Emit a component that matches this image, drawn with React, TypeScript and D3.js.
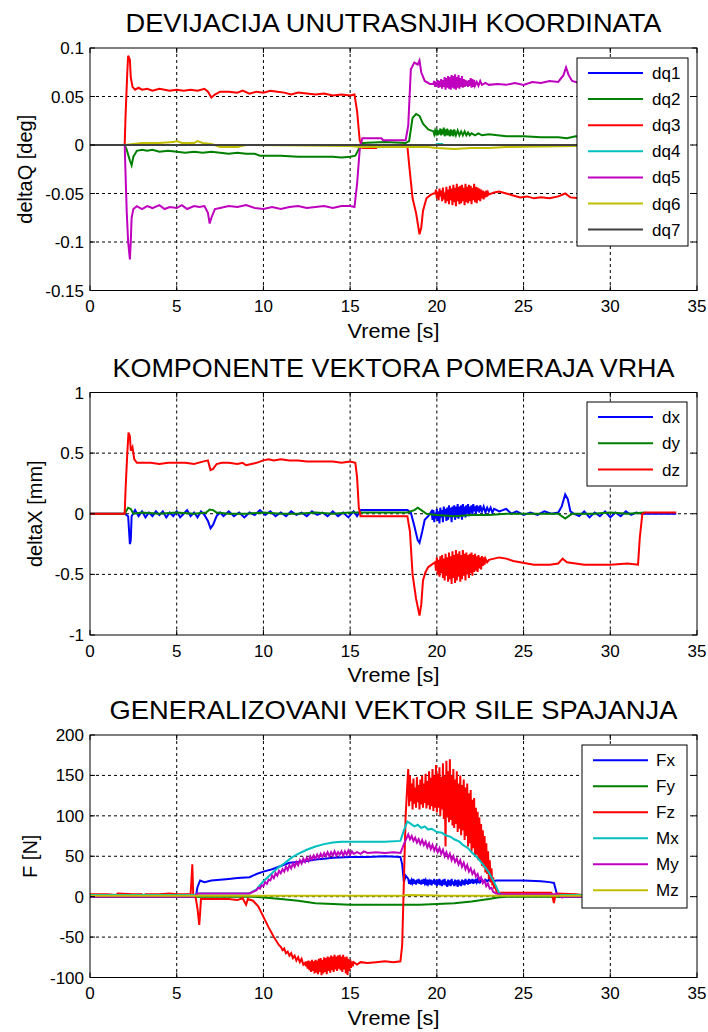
import React, { useEffect, useRef } from "react";
import * as d3 from "d3";

type Pt = [number, number];

// time axis shared by all three panels
const xTicks = [0, 5, 10, 15, 20, 25, 30, 35];

// ---------- panel 1: deltaQ [deg] ----------
const dq1: Pt[] = [[0, 0], [34, 0]];
const dq2: Pt[] = [
  [0, 0], [2.0, 0], [2.1, -0.004], [2.3, -0.016], [2.4, -0.021], [2.5, -0.012], [2.7, -0.006], [3.0, -0.005],
  [3.3, -0.006], [3.6, -0.005], [4.0, -0.007], [4.5, -0.006], [5.0, -0.007], [5.5, -0.008], [6.0, -0.007],
  [6.5, -0.008], [7.0, -0.007], [7.5, -0.008], [8.0, -0.009], [8.5, -0.008], [9.0, -0.009], [9.5, -0.009],
  [9.8, -0.011], [10.5, -0.011], [11, -0.011], [12, -0.012], [13, -0.012], [14, -0.012], [14.5, -0.013],
  [15.0, -0.012], [15.3, -0.011], [15.5, -0.004], [15.7, 0.002], [17, 0.003], [18.2, 0.002], [18.4, 0.004],
  [18.6, 0.028], [18.8, 0.032], [19.0, 0.030], [19.2, 0.022], [19.5, 0.016], [19.8, 0.014], [19.85, 0.011],
  [19.9, 0.015], [19.95, 0.012], [20.0, 0.016], [20.05, 0.010], [20.1, 0.015], [20.15, 0.011], [20.2, 0.017],
  [20.25, 0.010], [20.3, 0.016], [20.35, 0.011], [20.4, 0.018], [20.45, 0.009], [20.5, 0.016], [20.55, 0.010],
  [20.6, 0.017], [20.65, 0.010], [20.7, 0.015], [20.75, 0.009], [20.8, 0.016], [20.85, 0.010], [20.9, 0.015],
  [20.95, 0.009], [21.0, 0.016], [21.1, 0.010], [21.2, 0.015], [21.3, 0.010], [21.4, 0.014], [21.5, 0.010],
  [21.6, 0.014], [21.7, 0.010], [21.8, 0.013], [21.9, 0.010], [22.0, 0.012], [22.2, 0.010], [22.4, 0.012],
  [22.6, 0.010], [23, 0.011], [23.5, 0.010], [24, 0.009], [25, 0.009], [26, 0.008], [27, 0.008],
  [27.5, 0.007], [28, 0.009], [29, 0.008], [34, 0.008],
];
const dq3: Pt[] = [
  [0, 0], [2.0, 0], [2.05, 0.03], [2.15, 0.075], [2.2, 0.092], [2.3, 0.088], [2.35, 0.07], [2.45, 0.06],
  [2.6, 0.057], [2.8, 0.059], [3.0, 0.057], [3.3, 0.058], [3.6, 0.056], [4.0, 0.058], [4.3, 0.057],
  [4.6, 0.056], [5.0, 0.057], [5.4, 0.056], [5.8, 0.057], [6.2, 0.056], [6.6, 0.058], [6.8, 0.055],
  [7.0, 0.049], [7.2, 0.052], [7.5, 0.055], [8.0, 0.055], [8.5, 0.054], [8.8, 0.056], [9.2, 0.053],
  [9.6, 0.055], [10, 0.054], [10.4, 0.056], [10.8, 0.055], [11.2, 0.054], [11.6, 0.052], [12, 0.054],
  [12.5, 0.053], [13, 0.052], [13.5, 0.053], [14, 0.051], [14.5, 0.052], [15.0, 0.051], [15.25, 0.052],
  [15.4, 0.035], [15.55, 0.005], [15.7, -0.003], [16.5, -0.003], [16.6, -0.001], [18.3, -0.001],
  [18.4, -0.02], [18.6, -0.055], [18.8, -0.07], [19.0, -0.092], [19.1, -0.085], [19.2, -0.068],
  [19.4, -0.055], [19.6, -0.052], [19.8, -0.05],
  [19.9, -0.05], [19.95, -0.046], [20.0, -0.055], [20.05, -0.048], [20.1, -0.057], [20.15, -0.045],
  [20.2, -0.053], [20.25, -0.047], [20.3, -0.058], [20.35, -0.044], [20.4, -0.056], [20.45, -0.049],
  [20.5, -0.06], [20.55, -0.043], [20.6, -0.058], [20.65, -0.046], [20.7, -0.061], [20.75, -0.042],
  [20.8, -0.057], [20.85, -0.045], [20.9, -0.062], [20.95, -0.041], [21.0, -0.059], [21.05, -0.044],
  [21.1, -0.063], [21.15, -0.04], [21.2, -0.058], [21.25, -0.043], [21.3, -0.061], [21.35, -0.042],
  [21.4, -0.06], [21.45, -0.041], [21.5, -0.058], [21.55, -0.044], [21.6, -0.062], [21.65, -0.04],
  [21.7, -0.059], [21.75, -0.043], [21.8, -0.06], [21.85, -0.041], [21.9, -0.058], [21.95, -0.042],
  [22.0, -0.061], [22.05, -0.044], [22.1, -0.057], [22.15, -0.04], [22.2, -0.059], [22.25, -0.043],
  [22.3, -0.06], [22.35, -0.044], [22.4, -0.057], [22.45, -0.045], [22.5, -0.058], [22.55, -0.046],
  [22.6, -0.055], [22.65, -0.047], [22.7, -0.056], [22.75, -0.048], [22.8, -0.054], [22.85, -0.047],
  [22.9, -0.053], [22.95, -0.049], [23.0, -0.051], [23.3, -0.049], [23.6, -0.048],
  [24, -0.05], [24.4, -0.052], [24.8, -0.054], [25.2, -0.053], [25.6, -0.055], [26, -0.054],
  [26.5, -0.055], [27, -0.053], [27.4, -0.05], [27.7, -0.054], [28.2, -0.055], [34, -0.055],
];
const dq4: Pt[] = [[0, 0], [19.9, 0], [20.0, 0.001], [20.3, 0.001], [20.4, 0], [34, 0]];
const dq5: Pt[] = [
  [0, 0], [2.0, 0], [2.05, -0.03], [2.12, -0.07], [2.2, -0.1], [2.3, -0.118], [2.35, -0.1], [2.4, -0.075],
  [2.5, -0.066], [2.7, -0.063], [3.0, -0.066], [3.3, -0.063], [3.6, -0.065], [4.0, -0.062], [4.3, -0.066],
  [4.6, -0.064], [5.0, -0.065], [5.3, -0.062], [5.6, -0.066], [6.0, -0.063], [6.3, -0.064], [6.6, -0.063],
  [6.8, -0.07], [6.9, -0.081], [7.0, -0.075], [7.2, -0.066], [7.5, -0.065], [8, -0.063], [8.5, -0.064],
  [9, -0.062], [9.5, -0.065], [10, -0.066], [10.5, -0.064], [11, -0.066], [11.5, -0.064], [12, -0.063],
  [12.5, -0.065], [13, -0.064], [13.5, -0.063], [14, -0.065], [14.5, -0.063], [15.0, -0.063],
  [15.25, -0.064], [15.4, -0.04], [15.55, -0.005], [15.7, 0.007], [16.8, 0.007], [16.9, 0.005],
  [18.2, 0.005], [18.35, 0.02], [18.5, 0.078], [18.7, 0.085], [18.9, 0.083], [19.0, 0.087], [19.1, 0.075],
  [19.3, 0.066], [19.6, 0.063],
  [19.8, 0.063], [19.85, 0.066], [19.9, 0.06], [19.95, 0.065], [20.0, 0.061], [20.05, 0.067], [20.1, 0.059],
  [20.15, 0.066], [20.2, 0.06], [20.25, 0.068], [20.3, 0.058], [20.35, 0.067], [20.4, 0.06], [20.45, 0.07],
  [20.5, 0.057], [20.55, 0.069], [20.6, 0.059], [20.65, 0.071], [20.7, 0.058], [20.75, 0.07], [20.8, 0.057],
  [20.85, 0.072], [20.9, 0.059], [20.95, 0.071], [21.0, 0.058], [21.05, 0.073], [21.1, 0.057], [21.15, 0.07],
  [21.2, 0.059], [21.25, 0.072], [21.3, 0.058], [21.35, 0.069], [21.4, 0.06], [21.45, 0.071], [21.5, 0.059],
  [21.55, 0.068], [21.6, 0.06], [21.65, 0.067], [21.7, 0.061], [21.75, 0.066], [21.8, 0.06], [21.85, 0.067],
  [21.9, 0.061], [21.95, 0.069], [22.0, 0.059], [22.05, 0.068], [22.1, 0.06], [22.15, 0.067], [22.2, 0.061],
  [22.3, 0.065], [22.4, 0.061], [22.5, 0.066], [22.6, 0.062], [22.8, 0.064],
  [23, 0.062], [23.5, 0.063], [24, 0.062], [24.5, 0.064], [25, 0.062], [25.5, 0.065], [26, 0.064],
  [26.5, 0.066], [27, 0.065], [27.3, 0.072], [27.45, 0.08], [27.6, 0.072], [27.8, 0.066], [28.2, 0.064],
  [34, 0.064],
];
const dq6: Pt[] = [
  [0, 0], [2.0, 0], [2.5, 0.001], [3, 0.002], [4, 0.002], [4.8, 0.003], [5.0, 0.004], [5.3, 0.002],
  [6.0, 0.002], [6.2, 0.004], [6.5, 0.002], [7.0, 0.001], [7.5, -0.002], [8.5, -0.002], [9, 0],
  [15, -0.001], [15.6, -0.002], [19.5, -0.002], [20, -0.003], [21, -0.004], [22, -0.003], [23, -0.003],
  [24, -0.002], [28, -0.001], [34, -0.001],
];
const dq7: Pt[] = [[0, 0], [34, 0]];
const yTicksQ = [-0.15, -0.1, -0.05, 0, 0.05, 0.1];

// ---------- panel 2: deltaX [mm] ----------
const dx: Pt[] = [
  [0, 0], [2.0, 0], [2.2, -0.02], [2.3, -0.25], [2.35, -0.22], [2.4, -0.02], [2.6, 0.03], [2.8, -0.02],
  [3.0, 0.02], [3.2, -0.03], [3.4, 0.01], [3.6, -0.02], [3.8, 0.02], [4.0, -0.01], [4.2, 0.02], [4.4, -0.03],
  [4.6, 0.01], [4.8, -0.02], [5.0, 0.02], [5.2, -0.03], [5.4, 0.0], [5.6, 0.03], [5.8, -0.02], [6.0, 0.01],
  [6.2, -0.03], [6.4, 0.02], [6.6, -0.01], [6.8, -0.06], [6.95, -0.12], [7.1, -0.09], [7.3, -0.02],
  [7.5, 0.01], [7.7, -0.02], [8.0, 0.02], [8.3, -0.02], [8.6, 0.01], [8.9, -0.03], [9.2, 0.01], [9.5, -0.01],
  [9.8, 0.03], [10.1, -0.01], [10.4, 0.02], [10.7, -0.02], [11.0, 0.01], [11.3, -0.02], [11.6, 0.02],
  [11.9, -0.01], [12.2, 0.01], [12.5, -0.02], [12.8, 0.02], [13.1, -0.01], [13.4, 0.01], [13.7, -0.02],
  [14.0, 0.02], [14.3, -0.02], [14.6, 0.01], [14.9, -0.03], [15.2, 0.02], [15.4, -0.02], [15.6, 0.03],
  [18.3, 0.03], [18.5, 0.01], [18.7, -0.1], [18.9, -0.22], [19.0, -0.24], [19.15, -0.15], [19.3, -0.05],
  [19.5, -0.02], [19.7, 0.02], [19.75, -0.05], [19.8, 0.03], [19.85, -0.07], [19.9, 0.01], [19.95, -0.04],
  [20.0, 0.04], [20.05, -0.06], [20.1, 0.02], [20.15, -0.08], [20.2, 0.05], [20.25, -0.03], [20.3, 0.03],
  [20.35, -0.07], [20.4, 0.06], [20.45, -0.02], [20.5, 0.04], [20.55, -0.06], [20.6, 0.05], [20.65, -0.05],
  [20.7, 0.07], [20.75, -0.03], [20.8, 0.05], [20.85, -0.07], [20.9, 0.06], [20.95, -0.02], [21.0, 0.07],
  [21.05, -0.05], [21.1, 0.06], [21.15, -0.03], [21.2, 0.08], [21.25, -0.04], [21.3, 0.06], [21.35, -0.02],
  [21.4, 0.07], [21.45, -0.05], [21.5, 0.08], [21.55, -0.01], [21.6, 0.06], [21.65, -0.03], [21.7, 0.07],
  [21.75, 0.0], [21.8, 0.08], [21.85, -0.02], [21.9, 0.06], [21.95, 0.01], [22.0, 0.07], [22.05, -0.01],
  [22.1, 0.08], [22.15, 0.02], [22.2, 0.06], [22.25, 0.0], [22.3, 0.07], [22.35, 0.02], [22.4, 0.06],
  [22.45, 0.01], [22.5, 0.07], [22.6, 0.02], [22.7, 0.06], [22.8, 0.01], [22.9, 0.05], [23.0, 0.02],
  [23.1, 0.05], [23.2, 0.01], [23.3, 0.04], [23.6, 0.02],
  [24, 0.04], [24.3, 0.0], [24.6, 0.02], [25, -0.01], [25.4, 0.01], [25.8, -0.01], [26.2, 0.02],
  [26.6, 0.0], [27.0, 0.01], [27.2, 0.06], [27.4, 0.16], [27.55, 0.12], [27.7, 0.02], [27.9, 0.0],
  [28.2, -0.02], [28.5, 0.02], [28.8, -0.03], [29.1, 0.01], [29.4, -0.02], [29.7, 0.02], [30.0, -0.03],
  [30.3, 0.01], [30.6, -0.02], [30.9, 0.02], [31.2, -0.01], [31.5, 0.01], [31.8, 0], [33.8, 0],
];
const dy: Pt[] = [
  [0, 0], [2.0, 0], [2.2, 0.05], [2.35, 0.04], [2.5, 0.0], [3, 0.01], [4, 0.0], [5, 0.01], [6, 0.0],
  [6.7, 0.01], [6.9, 0.035], [7.1, 0.03], [7.3, 0.01], [8, 0.0], [9, 0.0], [10, 0.01], [11, 0.0], [12, 0.0],
  [13, 0.01], [14, 0.0], [15, 0.01], [15.6, 0.01], [18.3, 0.01], [18.7, 0.03], [18.9, 0.05], [19.1, 0.03],
  [19.4, 0.0], [20, -0.01], [21, -0.02], [22, -0.01], [23, -0.01], [24, 0.0], [27, 0.0], [27.2, -0.02],
  [27.4, -0.04], [27.6, -0.02], [27.8, 0.0], [29, 0.0], [30, 0.01], [31, 0.0], [32, 0.01],
];
const dz: Pt[] = [
  [0, 0], [2.0, 0], [2.05, 0.2], [2.15, 0.5], [2.22, 0.67], [2.3, 0.64], [2.35, 0.52], [2.45, 0.55],
  [2.55, 0.45], [2.7, 0.42], [3, 0.42], [3.5, 0.42], [4, 0.41], [4.5, 0.42], [5, 0.42], [5.5, 0.42],
  [6, 0.41], [6.5, 0.43], [6.8, 0.44], [6.95, 0.36], [7.1, 0.37], [7.3, 0.41], [7.6, 0.42], [8, 0.42],
  [8.5, 0.41], [8.8, 0.42], [9.0, 0.4], [9.3, 0.41], [9.6, 0.42], [10, 0.44], [10.3, 0.45], [10.6, 0.44],
  [11, 0.45], [11.5, 0.44], [12, 0.44], [12.5, 0.43], [13, 0.43], [14, 0.43], [14.5, 0.42], [15, 0.43],
  [15.3, 0.42], [15.4, 0.3], [15.5, 0.05], [15.6, -0.02], [18.3, -0.02], [18.45, -0.15], [18.6, -0.5],
  [18.8, -0.7], [19.0, -0.84], [19.1, -0.75], [19.2, -0.55], [19.35, -0.48], [19.5, -0.44], [19.7, -0.42],
  [19.9, -0.4], [19.95, -0.47], [20.0, -0.36], [20.05, -0.5], [20.1, -0.38], [20.15, -0.52], [20.2, -0.35],
  [20.25, -0.49], [20.3, -0.34], [20.35, -0.53], [20.4, -0.37], [20.45, -0.55], [20.5, -0.33], [20.55, -0.51],
  [20.6, -0.36], [20.65, -0.56], [20.7, -0.32], [20.75, -0.54], [20.8, -0.35], [20.85, -0.58], [20.9, -0.31],
  [20.95, -0.53], [21.0, -0.34], [21.05, -0.57], [21.1, -0.3], [21.15, -0.55], [21.2, -0.33], [21.25, -0.52],
  [21.3, -0.31], [21.35, -0.56], [21.4, -0.34], [21.45, -0.54], [21.5, -0.3], [21.55, -0.51], [21.6, -0.33],
  [21.65, -0.55], [21.7, -0.32], [21.75, -0.5], [21.8, -0.34], [21.85, -0.53], [21.9, -0.33], [21.95, -0.49],
  [22.0, -0.32], [22.05, -0.51], [22.1, -0.34], [22.15, -0.48], [22.2, -0.33], [22.25, -0.47], [22.3, -0.35],
  [22.35, -0.48], [22.4, -0.34], [22.45, -0.45], [22.5, -0.36], [22.55, -0.46], [22.6, -0.35], [22.65, -0.43],
  [22.7, -0.36], [22.75, -0.42], [22.8, -0.37], [22.9, -0.4], [23.0, -0.38], [23.3, -0.37], [23.6, -0.36],
  [24, -0.37], [24.4, -0.39], [24.8, -0.4], [25.2, -0.41], [25.6, -0.42], [26.5, -0.42], [27, -0.41],
  [27.25, -0.37], [27.5, -0.4], [28, -0.41], [28.5, -0.42], [30, -0.42], [31, -0.41], [31.6, -0.42],
  [31.7, -0.2], [31.85, 0], [32, 0.01], [33.8, 0.01],
];
const yTicksX = [-1, -0.5, 0, 0.5, 1];

// ---------- panel 3: F [N] ----------
const Fx: Pt[] = [
  [0, 0], [6.1, 0], [6.2, 12], [6.35, 20], [6.6, 18], [7, 20], [7.5, 21], [8, 22], [8.5, 23], [9.2, 24],
  [9.6, 28], [10, 31], [10.5, 34], [11, 38], [11.5, 42], [12, 43], [12.5, 44], [13, 46], [13.5, 47],
  [14, 48], [15, 49], [16, 49], [17, 50], [17.9, 49], [18.0, 40], [18.1, 18], [18.2, 26],
  [18.35, 22], [18.4, 16], [18.45, 21], [18.5, 15], [18.55, 20], [18.6, 17], [18.65, 22], [18.7, 16],
  [18.75, 20], [18.8, 15], [18.85, 21], [18.9, 17], [18.95, 22], [19.0, 16], [19.05, 20], [19.1, 15],
  [19.15, 21], [19.2, 16], [19.25, 22], [19.3, 17], [19.35, 20], [19.4, 14], [19.45, 21], [19.5, 16],
  [19.55, 19], [19.6, 15], [19.65, 21], [19.7, 14], [19.75, 20], [19.8, 16], [19.85, 22], [19.9, 15],
  [19.95, 20], [20.0, 13], [20.05, 21], [20.1, 15], [20.15, 22], [20.2, 14], [20.25, 20], [20.3, 13],
  [20.35, 21], [20.4, 15], [20.45, 22], [20.5, 14], [20.55, 19], [20.6, 12], [20.65, 21], [20.7, 14],
  [20.75, 20], [20.8, 13], [20.85, 22], [20.9, 15], [20.95, 19], [21.0, 13], [21.05, 21], [21.1, 14],
  [21.15, 20], [21.2, 12], [21.25, 21], [21.3, 14], [21.35, 19], [21.4, 13], [21.45, 21], [21.5, 15],
  [21.55, 20], [21.6, 14], [21.65, 22], [21.7, 16], [21.75, 20], [21.8, 15], [21.85, 22], [21.9, 16],
  [21.95, 21], [22.0, 17], [22.05, 22], [22.1, 16], [22.15, 21], [22.2, 17], [22.25, 22], [22.3, 18],
  [22.35, 21], [22.4, 17], [22.45, 22], [22.5, 18], [22.6, 21], [22.7, 18], [22.8, 21], [22.9, 19],
  [23.0, 21], [23.1, 19], [23.2, 20], [23.3, 19], [23.4, 20], [24, 20], [25, 20], [26, 19], [26.5, 18],
  [26.75, 17], [26.9, 5], [27, 0], [34, 0],
];
const Fy: Pt[] = [
  [0, 0], [9.5, 0], [10, -1], [11, -3], [12, -5], [13, -8], [14, -9], [15, -10], [19, -10], [20, -9],
  [21, -8], [22, -6], [23, -3], [23.5, -1], [24, 0], [34, 0],
];
const Fz: Pt[] = [
  [0, 3], [1, 3], [1.5, 2], [1.6, 4], [2.5, 3], [3.0, 3], [3.1, 1], [3.2, 3], [4, 3], [4.6, 4], [5, 3],
  [5.8, 3], [5.85, 20], [5.9, 40], [5.95, 3], [6.1, -2], [6.2, -15], [6.3, -35], [6.35, -20], [6.4, -3],
  [7, -3], [8, -3], [8.5, -4], [8.8, -2], [9.0, -10], [9.1, -3], [9.4, -5], [9.7, -12], [10, -25],
  [10.3, -38], [10.6, -50], [10.9, -60], [11.0, -62], [11.1, -66], [11.2, -64], [11.3, -70], [11.4, -68],
  [11.5, -73], [11.6, -70], [11.7, -76], [11.8, -73], [11.9, -79], [12.0, -75], [12.1, -81], [12.2, -77],
  [12.3, -84], [12.4, -82], [12.45, -86], [12.5, -80], [12.55, -89], [12.6, -79], [12.65, -91], [12.7, -80],
  [12.75, -93], [12.8, -78], [12.85, -92], [12.9, -80], [12.95, -95], [13.0, -78], [13.05, -94], [13.1, -79],
  [13.15, -96], [13.2, -77], [13.25, -93], [13.3, -76], [13.35, -97], [13.4, -78], [13.45, -95], [13.5, -75],
  [13.55, -93], [13.6, -76], [13.65, -96], [13.7, -74], [13.75, -92], [13.8, -75], [13.85, -94], [13.9, -73],
  [13.95, -91], [14.0, -74], [14.05, -93], [14.1, -72], [14.15, -90], [14.2, -74], [14.25, -92], [14.3, -73],
  [14.35, -89], [14.4, -72], [14.45, -91], [14.5, -74], [14.55, -93], [14.6, -72], [14.65, -90], [14.7, -75],
  [14.75, -95], [14.8, -74], [14.85, -97], [14.9, -77], [14.95, -92], [15.0, -78], [15.05, -88], [15.1, -80],
  [15.15, -86], [15.2, -81], [15.4, -84], [15.6, -81], [16, -82], [16.5, -81], [17, -80], [17.5, -81],
  [17.9, -80], [18.0, -60], [18.1, 20], [18.2, 100], [18.3, 140], [18.35, 158],
  [18.4, 112], [18.45, 150], [18.5, 118], [18.55, 140], [18.6, 108], [18.65, 146], [18.7, 115], [18.75, 135],
  [18.8, 110], [18.85, 148], [18.9, 117], [18.95, 138], [19.0, 108], [19.05, 145], [19.1, 114], [19.15, 150],
  [19.2, 110], [19.25, 140], [19.3, 116], [19.35, 152], [19.4, 109], [19.45, 143], [19.5, 113], [19.55, 155],
  [19.6, 108], [19.65, 147], [19.7, 112], [19.75, 158], [19.8, 106], [19.85, 150], [19.9, 110], [19.95, 163],
  [20.0, 104], [20.05, 152], [20.1, 110], [20.15, 160], [20.2, 100], [20.25, 148], [20.3, 108], [20.35, 165],
  [20.4, 96], [20.45, 150], [20.5, 62], [20.55, 168], [20.6, 98], [20.65, 155], [20.7, 92], [20.75, 170],
  [20.8, 95], [20.85, 150], [20.9, 88], [20.95, 158], [21.0, 85], [21.05, 145], [21.1, 90], [21.15, 155],
  [21.2, 80], [21.25, 140], [21.3, 84], [21.35, 150], [21.4, 76], [21.45, 138], [21.5, 82], [21.55, 145],
  [21.6, 70], [21.65, 135], [21.7, 75], [21.75, 140], [21.8, 62], [21.85, 128], [21.9, 66], [21.95, 132],
  [22.0, 56], [22.05, 120], [22.1, 60], [22.15, 122], [22.2, 50], [22.25, 110], [22.3, 52], [22.35, 105],
  [22.4, 45], [22.45, 98], [22.5, 44], [22.55, 90], [22.6, 38], [22.65, 82], [22.7, 36], [22.75, 75],
  [22.8, 30], [22.85, 66], [22.9, 28], [22.95, 56], [23.0, 22], [23.05, 45], [23.1, 18], [23.15, 35],
  [23.2, 14], [23.25, 24], [23.3, 10], [23.35, 15], [23.45, 5], [26.6, 5], [26.7, -3], [26.75, -8],
  [26.8, -2], [26.9, 4], [28, 3], [28.4, 2], [29, 3], [30, 2], [34, 2],
];
const Mx: Pt[] = [
  [0, 2], [6.0, 2], [6.2, 4], [9.2, 4], [9.6, 9], [10, 19], [10.4, 27], [10.8, 35], [11.2, 41], [11.6, 48],
  [12, 53], [12.5, 58], [13, 62], [13.5, 65], [14, 67], [14.5, 68], [15, 68], [17, 68], [17.9, 69],
  [18.1, 82], [18.3, 93], [18.5, 90], [18.7, 87], [18.9, 89], [19.1, 85], [19.3, 87], [19.5, 83],
  [19.7, 84], [20, 80], [20.3, 79], [20.5, 76], [20.8, 74], [21, 71], [21.3, 68], [21.5, 64], [21.8, 60],
  [22, 55], [22.3, 49], [22.5, 44], [22.8, 36], [23, 30], [23.3, 18], [23.6, 4], [24, 2], [34, 2],
];
const My: Pt[] = [
  [0, 0], [6.0, 0], [6.2, 4], [9.2, 4], [9.6, 8], [9.7, 11], [9.8, 10], [9.9, 14], [10.0, 13], [10.1, 18],
  [10.2, 16], [10.3, 21], [10.4, 20], [10.5, 26], [10.6, 23], [10.7, 29], [10.8, 26], [10.9, 32], [11.0, 29],
  [11.1, 34], [11.2, 31], [11.3, 37], [11.4, 33], [11.5, 39], [11.6, 35], [11.7, 41], [11.8, 37], [11.9, 43],
  [12.0, 39], [12.1, 45], [12.2, 41], [12.3, 47], [12.4, 43], [12.5, 48], [12.6, 44], [12.7, 50], [12.8, 46],
  [12.9, 51], [13.0, 47], [13.1, 52], [13.2, 48], [13.3, 53], [13.4, 49], [13.5, 54], [13.6, 50], [13.7, 55],
  [13.8, 50], [13.9, 55], [14.0, 51], [14.1, 56], [14.2, 51], [14.3, 55], [14.4, 52], [14.5, 56], [14.6, 51],
  [14.7, 56], [14.8, 52], [14.9, 57], [15.0, 52], [15.1, 56], [15.2, 53], [15.4, 55], [15.6, 53], [15.8, 56],
  [16, 54], [16.5, 55], [17, 54], [17.5, 55], [17.9, 54], [18.1, 65], [18.35, 77], [18.45, 71], [18.55, 75],
  [18.65, 69], [18.75, 73], [18.85, 67], [18.95, 71], [19.05, 65], [19.15, 70], [19.25, 64], [19.35, 68],
  [19.45, 61], [19.55, 66], [19.65, 59], [19.75, 64], [19.85, 57], [19.95, 62], [20.05, 55], [20.15, 60],
  [20.25, 53], [20.35, 58], [20.45, 50], [20.55, 55], [20.65, 48], [20.75, 53], [20.85, 45], [20.95, 50],
  [21.05, 43], [21.15, 47], [21.25, 40], [21.35, 45], [21.45, 37], [21.55, 42], [21.65, 34], [21.75, 39],
  [21.85, 31], [21.95, 35], [22.05, 28], [22.15, 32], [22.25, 25], [22.35, 28], [22.45, 21], [22.55, 24],
  [22.65, 17], [22.75, 20], [22.85, 13], [22.95, 16], [23.05, 10], [23.15, 11], [23.25, 6], [23.4, 4],
  [23.6, 3], [27, 3], [27.2, -1], [27.4, 0], [34, 0],
];
const Mz: Pt[] = [[0, 1], [18, 1], [18.2, 2], [20, 1.5], [20.2, 1], [34, 1]];
const yTicksF = [-100, -50, 0, 50, 100, 150, 200];

const BLUE = "#0000ff";
const GREEN = "#008000";
const RED = "#ff0000";
const CYAN = "#00bfbf";
const MAGENTA = "#bf00bf";
const YELLOW = "#bfbf00";
const GRAY = "#404040";

interface Series { name: string; color: string; data: Pt[] }
interface Panel {
  title: string;
  titleLen: number;
  ylabel: string;
  top: number;
  yDomain: [number, number];
  yTicks: number[];
  series: Series[];
  legend: { x0: number; y0: number; x1: number; y1: number; row0: number; rowDy: number; l0: number; l1: number; tx: number };
}

const panels: Panel[] = [
  {
    title: "DEVIJACIJA UNUTRASNJIH KOORDINATA",
    titleLen: 536,
    ylabel: "deltaQ [deg]",
    top: 48,
    yDomain: [-0.15, 0.1],
    yTicks: yTicksQ,
    series: [
      { name: "dq1", color: BLUE, data: dq1 },
      { name: "dq2", color: GREEN, data: dq2 },
      { name: "dq3", color: RED, data: dq3 },
      { name: "dq4", color: CYAN, data: dq4 },
      { name: "dq5", color: MAGENTA, data: dq5 },
      { name: "dq6", color: YELLOW, data: dq6 },
      { name: "dq7", color: GRAY, data: dq7 },
    ],
    legend: { x0: 577, y0: 58, x1: 688, y1: 246, row0: 73, rowDy: 26.1, l0: 588, l1: 643, tx: 652 },
  },
  {
    title: "KOMPONENTE VEKTORA POMERAJA VRHA",
    titleLen: 562,
    ylabel: "deltaX [mm]",
    top: 392.5,
    yDomain: [-1, 1],
    yTicks: yTicksX,
    series: [
      { name: "dx", color: BLUE, data: dx },
      { name: "dy", color: GREEN, data: dy },
      { name: "dz", color: RED, data: dz },
    ],
    legend: { x0: 587, y0: 402, x1: 687, y1: 486, row0: 417, rowDy: 26.3, l0: 598, l1: 653, tx: 662 },
  },
  {
    title: "GENERALIZOVANI VEKTOR SILE SPAJANJA",
    titleLen: 568,
    ylabel: "F [N]",
    top: 735,
    yDomain: [-100, 200],
    yTicks: yTicksF,
    series: [
      { name: "Fx", color: BLUE, data: Fx },
      { name: "Fy", color: GREEN, data: Fy },
      { name: "Fz", color: RED, data: Fz },
      { name: "Mx", color: CYAN, data: Mx },
      { name: "My", color: MAGENTA, data: My },
      { name: "Mz", color: YELLOW, data: Mz },
    ],
    legend: { x0: 582, y0: 745, x1: 687, y1: 908, row0: 760.3, rowDy: 26, l0: 593, l1: 648, tx: 656 },
  },
];

const FONT = "'Liberation Sans', Arial, Helvetica, sans-serif";
const LEFT = 90;
const RIGHT = 697;
const H = 242.5;

const App: React.FC = () => {
  const ref = useRef<SVGSVGElement | null>(null);

  useEffect(() => {
    const root = d3.select(ref.current);
    root.selectAll("*").remove();

    const x = d3.scaleLinear().domain([0, 35]).range([LEFT, RIGHT]);

    panels.forEach((p, pi) => {
      const top = p.top;
      const bottom = top + H;
      const y = d3.scaleLinear().domain(p.yDomain).range([bottom, top]);
      const g = root.append("g");

      // clip for data lines
      const clipId = `clip${pi}`;
      g.append("clipPath")
        .attr("id", clipId)
        .append("rect")
        .attr("x", LEFT)
        .attr("y", top)
        .attr("width", RIGHT - LEFT)
        .attr("height", H);

      // grid (dotted, skipping the box edges)
      xTicks.slice(1, -1).forEach((t) => {
        g.append("line")
          .attr("x1", x(t)).attr("x2", x(t))
          .attr("y1", top).attr("y2", bottom)
          .attr("stroke", "#000").attr("stroke-width", 1)
          .attr("stroke-dasharray", "3,3");
      });
      p.yTicks.slice(1, -1).forEach((v) => {
        g.append("line")
          .attr("x1", LEFT).attr("x2", RIGHT)
          .attr("y1", y(v)).attr("y2", y(v))
          .attr("stroke", "#000").attr("stroke-width", 1)
          .attr("stroke-dasharray", "3,3");
      });

      // data
      const line = d3
        .line<Pt>()
        .x((d) => x(d[0]))
        .y((d) => y(d[1]));
      const dataG = g.append("g").attr("clip-path", `url(#${clipId})`);
      p.series.forEach((s) => {
        dataG.append("path")
          .attr("d", line(s.data) ?? "")
          .attr("fill", "none")
          .attr("stroke", s.color)
          .attr("stroke-width", 2)
          .attr("stroke-linejoin", "miter");
      });

      // box + inward ticks on all sides
      g.append("rect")
        .attr("x", LEFT).attr("y", top)
        .attr("width", RIGHT - LEFT).attr("height", H)
        .attr("fill", "none").attr("stroke", "#000").attr("stroke-width", 1);
      xTicks.forEach((t) => {
        g.append("line").attr("x1", x(t)).attr("x2", x(t)).attr("y1", bottom).attr("y2", bottom - 5).attr("stroke", "#000");
        g.append("line").attr("x1", x(t)).attr("x2", x(t)).attr("y1", top).attr("y2", top + 5).attr("stroke", "#000");
        g.append("text")
          .attr("x", x(t)).attr("y", bottom + 21.5)
          .attr("text-anchor", "middle")
          .style("font-family", FONT).style("font-size", "17px")
          .text(String(t));
      });
      let maxW = 0;
      p.yTicks.forEach((v) => {
        g.append("line").attr("x1", LEFT).attr("x2", LEFT + 5).attr("y1", y(v)).attr("y2", y(v)).attr("stroke", "#000");
        g.append("line").attr("x1", RIGHT).attr("x2", RIGHT - 5).attr("y1", y(v)).attr("y2", y(v)).attr("stroke", "#000");
        const tx = g.append("text")
          .attr("x", 84).attr("y", y(v) + 6)
          .attr("text-anchor", "end")
          .style("font-family", FONT).style("font-size", "17px")
          .text(String(v));
        const node = tx.node() as SVGTextElement | null;
        if (node) maxW = Math.max(maxW, node.getComputedTextLength());
      });

      // y label
      g.append("text")
        .attr("transform", `translate(${84 - maxW - 13},${(top + bottom) / 2}) rotate(-90)`)
        .attr("text-anchor", "middle")
        .style("font-family", FONT).style("font-size", "20px")
        .text(p.ylabel);

      // x label
      g.append("text")
        .attr("x", (LEFT + RIGHT) / 2).attr("y", bottom + 47)
        .attr("text-anchor", "middle")
        .attr("textLength", 92).attr("lengthAdjust", "spacingAndGlyphs")
        .style("font-family", FONT).style("font-size", "20px")
        .text("Vreme [s]");

      // title
      g.append("text")
        .attr("x", (LEFT + RIGHT) / 2).attr("y", top - 16)
        .attr("text-anchor", "middle")
        .attr("textLength", p.titleLen).attr("lengthAdjust", "spacingAndGlyphs")
        .style("font-family", FONT).style("font-size", "25px")
        .text(p.title);

      // legend
      const L = p.legend;
      g.append("rect")
        .attr("x", L.x0).attr("y", L.y0)
        .attr("width", L.x1 - L.x0).attr("height", L.y1 - L.y0)
        .attr("fill", "#fff").attr("stroke", "#000").attr("stroke-width", 1);
      p.series.forEach((s, i) => {
        const ry = L.row0 + i * L.rowDy;
        g.append("line")
          .attr("x1", L.l0).attr("x2", L.l1).attr("y1", ry).attr("y2", ry)
          .attr("stroke", s.color).attr("stroke-width", 2);
        g.append("text")
          .attr("x", L.tx).attr("y", ry + 6)
          .style("font-family", FONT).style("font-size", "17px")
          .text(s.name);
      });
    });
  }, []);

  return (
    <svg
      ref={ref}
      width={708}
      height={1032}
      style={{ position: "absolute", left: 0, top: 0, background: "#fff" }}
    />
  );
};

export default App;
